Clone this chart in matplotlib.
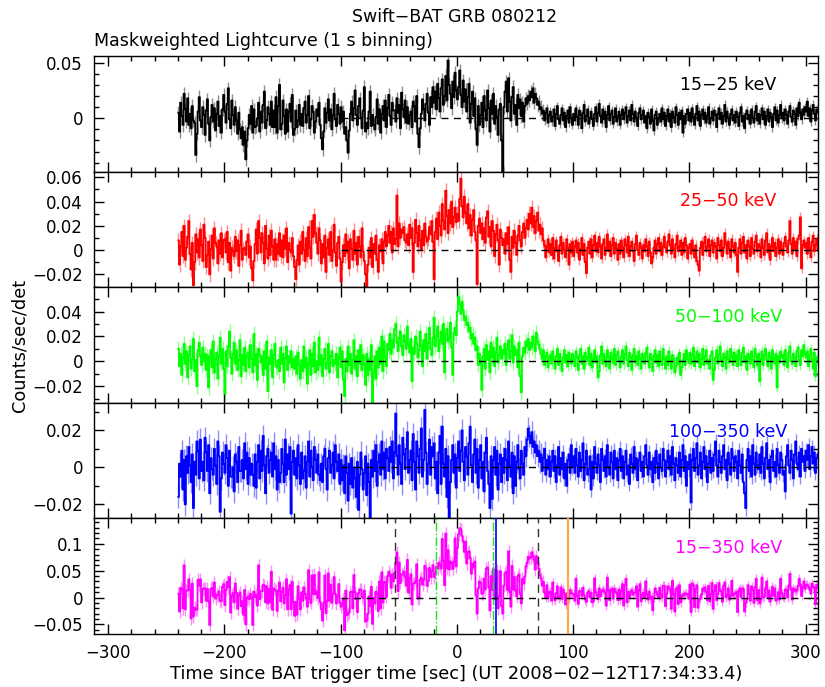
import numpy as np
import matplotlib
matplotlib.use('Agg')
import matplotlib.pyplot as plt
from matplotlib.ticker import MultipleLocator, FuncFormatter


# ── Data: mask-weighted rates, 1 s bins starting at t = -240 s ────────────────
# values in units of 1e-3 counts/sec/det, one row = 20 s
t_first = -240

lc_15_25 = [
    5, -12, 14, 2, -6, 22, 8, -3, 18, -6, 4, -9, 11, -2, -4, -33, -14, 6, 19, -2,
    -8, 10, 3, -15, 7, 17, -5, -20, 1, 12, -3, 9, -11, 4, 15, -7, 2, -13, 8, 21,
    6, -4, 13, 27, -1, -9, 16, 3, -6, 10, -2, -14, 5, -10, -18, -8, -24, -12, -37, -20,
    -9, 3, -5, 11, -13, 8, -8, -7, 0, 14, -12, 6, -4, 12, 24, -9, -2, 10, 4, -6,
    15, -8, 7, -8, 19, -13, 11, 30, -10, -5, 16, 2, -14, 8, -12, 6, 13, -3, 21, -15,
    -10, 7, -8, -2, 12, -6, 4, -7, 9, 15, -4, 3, 20, -9, -1, 11, 6, -13, -3, 8,
    2, 14, -6, -18, -28, -12, 9, -4, 5, 17, -2, 8, -10, 3, 22, -1, -7, 12, 4, -5,
    10, -3, 6, -14, -8, -20, -31, -11, 4, 15, -2, 9, 25, 3, -6, 11, 18, 0, -9, 7,
    28, -12, -4, -9, 6, 24, -7, 3, -6, -10, 1, 17, -5, 8, -13, 4, 11, -2, 16, -8,
    9, 21, 2, -6, 14, 7, 7, -3, 18, 5, 12, -9, 23, 8, 1, 16, -4, 10, -5, 3,
    6, -8, 15, 11, -3, 20, -14, -26, -9, 4, 17, 8, -2, 13, 22, 5, -6, 19, 10, 28,
    14, 24, 8, 31, 18, 6, 27, 35, 12, 20, 38, 16, 52, 30, 22, 9, 33, 19, 41, 25,
    17, 28, 43, 21, 10, 34, 15, 26, 6, 19, 31, -4, 13, 24, 2, 18, -10, -24, 11, -6,
    3, 14, -8, 20, 7, -2, 25, 9, -12, 16, 4, 22, -5, 11, 1, -15, 8, 13, -20, -48,
    10, 24, 33, 6, 36, 15, -2, 19, 28, 4, 12, -6, 21, 9, 17, 2, 14, -3, 11, 18,
    13, 20, 16, 24, 19, 27, 14, 22, 18, 12, 15, 8, 10, 4, 7, -2, 5, 9, -4, 3,
    6, -3, 1, 8, -7, 4, 11, -1, -5, 3, 9, -2, 5, -8, 2, 7, -4, 10, 0, -6,
    4, -2, 9, 1, -6, 7, 3, -9, 5, 12, -3, 2, 8, -5, 0, 6, -1, -7, 4, 10,
    -3, 5, 13, 2, -4, 8, -1, 6, -8, 3, 11, -2, 4, 7, -5, 1, 9, -3, 2, 6,
    -6, 3, 8, -1, 5, 10, -4, 2, 7, -2, 12, 4, -3, 6, 0, -7, 5, 9, -1, 3,
    7, -4, 2, -9, 5, 1, -5, 8, -2, -11, 3, 6, -6, 0, 4, -3, 9, -1, 5, -7,
    2, 8, -3, 4, -8, 6, 1, -4, 10, 3, -6, 5, -1, 7, -13, 2, -5, 4, 8, -2,
    5, -3, 9, 1, -6, 4, 11, -2, 6, -7, 3, 8, -1, 5, -4, 2, 10, -5, 0, 6,
    -2, 7, 3, -8, 4, 9, -1, 5, -5, 2, 12, -3, 6, 0, -6, 4, 8, -2, 3, -4,
    6, 1, -7, 5, 10, -3, 2, -9, 4, 7, -1, 3, -5, 8, 0, -4, 6, 11, -2, 4,
    -5, 3, 9, -1, 6, -6, 2, 8, -3, 5, 1, -8, 4, 10, -2, 7, -4, 3, 12, 0,
    5, -2, 8, 3, -5, 6, 11, 1, -3, 7, 4, -6, 9, 2, 14, 5, -1, 8, 3, 10,
    6, 15, 2, 9, -3, 7, 12, 4, -2, 8, 5,
]

lc_25_50 = [
    8, -12, 3, 15, -5, 20, -8, 2, 11, 24, -3, -16, 6, -29, -10, 13, -2, 9, -6, 17,
    4, -9, 21, 10, -14, -4, 7, -20, 1, 12, -7, 18, 6, 3, -11, 8, -3, 14, -6, 8,
    9, -2, 15, -10, 6, -17, 2, -1, -5, 11, -1, 8, -13, 4, 16, -8, 1, 2, -4, 7,
    13, -6, 3, -15, -25, -9, 5, 17, -3, 24, 10, -2, 14, 6, -11, 20, 1, -7, 12, -4,
    16, 3, -8, 9, -8, 5, -3, 14, -5, 8, -6, 12, 1, 18, -10, 6, 0, -2, 10, -5,
    -14, -24, -8, 4, -12, 7, -3, 15, 0, -9, 10, -5, 19, 2, -7, 24, 11, 29, 14, 6,
    -3, 18, 8, -11, 5, -6, 12, -18, 2, 9, -4, 15, -9, 0, 21, -2, -13, 6, 11, -7,
    -26, -10, 4, -5, 13, -2, 7, -15, 9, 1, -8, 16, -3, 6, -12, 11, 3, -6, 18, -1,
    -9, -20, -30, -12, 2, -6, 10, -14, 5, -3, 12, -8, -18, 4, -1, 9, -11, 7, 15, 3,
    12, 20, 6, 15, -2, 18, 5, 9, 45, 3, 22, 10, 17, 14, 19, 8, 6, 13, 4, 21,
    10, 18, -18, 6, 25, 14, 3, 20, 8, 0, 16, 4, 22, 11, 7, 9, 19, 13, 24, 7,
    -24, 15, 26, 9, 31, 20, 12, 38, 24, 17, 49, 28, 14, 33, 22, 40, 19, 27, 35, 23,
    30, 24, 42, 59, 36, 27, 44, 31, 22, 38, 18, 29, 12, 25, 33, 15, 8, -28, 20, 26,
    14, 22, 9, 18, 6, 27, 32, 11, 19, 3, 24, 16, -5, 13, 21, 8, -12, 17, 10, 4,
    9, -3, 14, 5, 19, -8, -18, 11, 2, 16, 6, -4, 12, 20, 8, 3, 15, 22, 10, 18,
    25, 17, 30, 22, 35, 19, 28, 14, 24, 31, 16, 21, 13, 18, 8, 4, -6, 3, 9, -2,
    5, -4, 10, -7, 2, 8, -1, -9, 4, 11, -3, 6, 0, -6, 9, 2, -12, 5, -2, 7,
    -5, 3, 8, -2, 6, -8, 1, 10, -4, 5, -10, -19, 2, 7, -3, 9, -6, 4, 12, -1,
    6, -2, 11, 3, -7, 5, 9, -4, 2, 13, -1, 7, -5, 4, 10, -3, 6, 1, -8, 5,
    -3, 8, 2, -6, 9, 4, -2, 11, -5, 3, 7, -1, -9, 5, 12, 0, -4, 6, 2, -7,
    4, -1, 9, 3, -5, 7, -2, -11, -6, 2, 8, -3, 5, 10, -1, 6, -4, 3, 11, 2,
    -2, 7, 13, 4, -3, 9, 1, -6, 5, 12, -1, 3, 8, -4, 6, -2, 10, 4, -7, 2,
    5, -3, 8, 1, -6, 4, -9, -12, -17, 2, 7, -4, 6, 11, -1, 3, 9, -5, 4, 8,
    -2, 6, 3, -7, 10, 4, -1, 8, -5, 2, 14, 5, -3, 7, 1, -6, 9, 3, -2, 6,
    -4, -18, 2, 9, -3, 6, 11, -2, 4, -7, 8, 3, -5, 10, 1, -3, 7, 12, -1, 5,
    3, -6, 9, 2, -4, 8, 14, -2, 5, -8, 3, 10, -1, 6, -5, 2, 9, -3, 7, 1,
    -4, 6, 11, 3, -2, 8, 24, 5, -3, 10, 1, 7, -5, 9, 12, 27, -15, 4, 8, 2,
    6, -3, 10, 2, -6, 7, 12, -1, 4, 9, 1,
]

lc_50_100 = [
    10, -4, 6, -11, 3, 14, -2, 8, -13, 5, 12, -6, 2, 18, -8, 1, -20, 9, 15, 4,
    -3, 11, 0, 6, -7, 5, -21, 3, 9, -5, 16, -9, 2, 7, -14, 4, 19, -2, 10, -6,
    -26, 8, -4, 12, 24, 3, -10, 6, 15, -2, 9, -7, 1, 17, -12, 5, -3, 11, -8, 4,
    7, -5, 13, 2, -9, 22, -3, 6, -15, 10, 5, -1, 4, -11, 8, -6, 16, -24, 3, -2,
    9, -13, 5, 14, -4, -5, 1, -8, 11, -2, 6, -17, 3, 12, -7, 4, -1, 8, -5, 2,
    -6, 4, -10, 7, -3, -14, 1, -8, 12, -5, 3, -18, -2, 9, -11, 6, -4, 15, -9, 0,
    -7, 19, -3, 5, -12, 2, 10, -6, -1, 14, -9, 4, 8, -4, 1, -2, 6, -13, 3, 11,
    -5, 8, -15, -28, 2, -8, 12, -3, 6, -10, 1, 17, -6, 4, -12, 9, -2, 13, -7, 5,
    -3, -19, 6, -11, 2, -7, 13, -33, -9, 4, -14, 8, -5, 11, -2, 20, -8, 16, 3, -4,
    14, 9, 22, 6, 17, 11, 26, 30, 15, 8, 19, 24, 12, 5, 21, 16, 10, 28, 13, 7,
    18, -16, 11, 6, 20, 14, 3, 9, 24, 12, -4, 17, 8, 22, 2, 15, 27, 10, 5, 19,
    35, 12, 20, 28, 8, 17, 24, 14, 30, -9, 22, 26, 16, 19, 31, 11, -11, 23, 27, 21,
    40, 52, 46, 38, 48, 41, 33, 36, 29, 31, 24, 27, 18, 22, 14, 19, 9, 12, -3, 6,
    -2, -23, 4, 10, -6, 13, 1, 8, -9, 15, 3, 11, -4, 7, 19, -1, 5, 12, 2, 9,
    6, 14, -3, 10, 17, 2, 8, 21, -1, 12, 5, 9, -5, 15, -12, -25, 4, 11, 7, 16,
    12, 18, 9, 15, 11, 20, 14, 8, 23, 16, 13, 10, 6, 2, 9, -3, 4, 7, -5, 3,
    5, -2, 8, 1, -6, 4, 10, -3, 6, 0, -8, 3, 9, -1, 5, -4, 7, 2, -2, 6,
    1, -4, 8, 3, -7, 5, 10, -2, 4, -6, 7, 0, 3, 11, -3, 6, -5, 2, 9, -1,
    4, -13, -8, 5, 12, -2, 6, 1, -4, 9, 3, -6, 7, 2, -1, 10, -3, 5, 8, 0,
    -5, 4, 9, -2, 6, 12, 1, -4, 7, 3, -7, 5, 10, -1, 4, -3, 8, 2, -6, 6,
    3, -2, 7, 11, 0, -5, 6, 2, -8, 4, 9, -1, 5, -4, 8, 1, -3, 10, 2, -6,
    4, -3, 8, 1, -6, 5, 2, -9, -4, 3, -2, 7, -11, -5, 1, 6, -3, 9, 2, -1,
    7, -2, 5, 11, -4, 3, 8, -1, 6, -5, 2, 10, -3, 4, 9, -2, 1, -6, 5, 8,
    -15, -7, 3, 9, -2, 5, 12, 1, -4, 6, 3, -6, 8, 2, -1, 10, 4, -3, 7, 0,
    5, -4, 9, 2, -3, 7, 11, -1, 4, -7, 6, 3, -2, 8, 1, -5, 10, 4, -3, 6,
    -16, 2, 8, -3, 5, 10, 1, -4, 7, 3, -6, 9, 2, -2, 6, -21, 4, -1, 8, 3,
    5, -3, 9, 2, -5, 7, 12, 0, -2, 6, 3, -4, 8, 11, 1, -3, 9, 4, 13, 6,
    3, 8, -4, 5, 10, 1, -6, 7, -12, 2, 4,
]

lc_100_350 = [
    -16, 2, -5, 9, -12, 4, -20, 6, -3, 11, 1, -8, 7, -22, 3, -4, 14, 9, -6, 15,
    -2, 3, -7, 16, 8, -2, 12, -14, 5, -1, -4, 10, 1, -9, 14, 6, -24, -6, 8, 2,
    -3, 12, 5, -10, 9, -5, -5, 0, -13, 7, 3, -8, 11, -2, -2, 4, -6, 13, -1, 8,
    -9, 5, -4, 2, -4, -10, 7, -11, 3, 12, -6, 9, -2, 17, 1, -14, 6, 10, -3, 4,
    8, -5, 13, -1, 6, -12, 4, -8, -3, 10, 2, -8, 15, -4, 7, -1, 11, -25, 3, 9,
    -4, 5, -6, 12, 1, -9, 8, -6, -2, 6, -11, 3, 14, -5, 9, 0, -7, 11, 4, -3,
    7, -4, -7, 2, -8, 6, 10, -1, -12, 5, 9, -3, 1, 8, -6, 12, 3, -2, 7, -9,
    4, -7, 1, -14, 6, -3, -18, 2, -9, 5, -11, 0, -6, -16, 3, -23, -4, 8, -1, -12,
    -3, 6, -15, 2, -8, -27, 4, -5, 9, -2, 12, -10, 3, 7, -4, 14, -1, 8, -6, 10,
    5, -2, 11, 3, 14, -6, 8, 29, 6, -4, 12, 2, -9, 16, 7, -1, 10, 19, -3, 4,
    9, -7, 18, 3, -12, 14, 6, -3, 10, 21, -5, 4, 31, 8, -9, 2, 15, -4, 11, 6,
    13, -6, 3, -14, 8, 17, -9, 22, 2, -5, 10, -16, 6, -30, -8, 4, 12, -3, 7, -11,
    5, 14, -2, 9, 20, 3, -7, 11, 6, -4, 13, 22, 1, -8, 7, 15, -3, 10, -11, 4,
    12, -6, 3, -13, 8, 16, -2, -9, -22, 6, -17, 4, 11, -4, 9, -12, 2, 7, -8, 5,
    -3, 10, 4, -7, 14, 1, -5, 8, -14, 6, -10, 3, 12, -1, -6, 9, 2, -4, 11, 6,
    15, 21, 17, 13, 19, 11, 14, 8, 12, 6, 9, 3, 7, -2, 5, 10, -4, 4, -1, 6,
    -5, 3, 9, -2, 6, -8, 1, 11, -4, 5, -1, 8, -6, 2, -10, 4, 7, -3, 12, 0,
    6, -3, 10, 1, -5, 8, -2, 4, 13, -7, 2, 9, -4, -1, 6, -12, 3, -6, 11, 2,
    -3, 7, 1, -8, 10, 4, -2, 6, -5, 12, 0, -4, 8, 3, -6, 9, -1, 5, -7, 4,
    10, -2, 6, -6, 3, 9, -4, 1, -9, 7, 2, -3, 11, -1, 5, -7, 4, 8, -2, 3,
    -5, 6, 12, 1, -4, 8, -1, 3, -8, 5, -3, 9, 2, -6, 7, 0, -2, 10, 4, -5,
    3, 9, -1, 6, -4, 11, 2, -7, 5, 1, -3, 8, -5, 4, 12, -2, 6, -10, 3, -1,
    7, -19, 4, 10, -2, 5, 13, -4, 1, 8, -6, 3, 11, -1, 6, -8, 2, 9, -3, 5,
    -2, 7, 14, 1, -5, 9, 3, -3, 6, 12, -1, 4, -7, 8, 2, -4, 10, 5, -2, 6,
    3, -6, 9, 1, -3, 7, -8, -14, -22, 4, 10, -2, 6, -5, 12, 2, -4, 8, 1, -1,
    7, -3, 11, 2, -6, 5, 13, -1, 4, -8, 6, 9, -2, 3, -5, 10, 1, -3, 8, 4,
    -4, -2, -13, 6, 12, 1, -3, 9, 4, -6, 7, 14, 2, -1, 8, -5, 10, 3, 6, -2,
    9, 4, 12, -1, 6, 11, 2, 8, -3, 5, 7,
]

# typical 1-sigma error per bin (1e-3 counts/sec/det), before / after t_quiet
err_before = [6, 6, 6, 6]
err_after = [4, 4, 4, 4]
t_quiet = 75

band_labels = ['15\u221225 keV', '25\u221250 keV', '50\u2212100 keV',
               '100\u2212350 keV', '15\u2212350 keV']

# markers drawn in the 15-350 keV panel (seconds since trigger)
t_t90 = [-53.4, 69.5]
t_t50 = [-18.0, 31.3]
t_peak = [33.6]
t_orange = [95.4]


# ── Build the series ──────────────────────────────────────────────────────────
bands_raw = [lc_15_25, lc_25_50, lc_50_100, lc_100_350]
n = min(len(b) for b in bands_raw)
t_mid = t_first + np.arange(n) + 0.5
rates = [np.array(b[:n], dtype=float) / 1000.0 for b in bands_raw]
errs = [np.where(t_mid < t_quiet, eb, ea) / 1000.0
        for eb, ea in zip(err_before, err_after)]
rates.append(np.sum(rates, axis=0))
errs.append(np.sqrt(np.sum(np.square(errs), axis=0)))


# ── Style ─────────────────────────────────────────────────────────────────────
plt.rcParams.update({
    'font.family': 'DejaVu Sans',
    'font.size': 12,
    'axes.linewidth': 1.0,
})

colors = ['black', '#ff0000', '#00ff00', '#0000ff', '#ff00ff']
err_colors = ['#8c8c8c', '#ff8c8c', '#8cff8c', '#8c8cff', '#ff8cff']
ylims = [(-0.048, 0.056), (-0.0306, 0.0647), (-0.0334, 0.0595),
         (-0.0276, 0.0348), (-0.068, 0.147)]
ymajor = [0.05, 0.02, 0.02, 0.02, 0.05]
xlim = (-312, 311)


def fmt_tick(v, pos):
    if abs(v) < 1e-9:
        return '0'
    return ('%g' % v).replace('-', '\u2212')


fig = plt.figure(figsize=(8.25, 6.87), dpi=100)
left, width = 0.114, 0.878
top, height = 0.9185, 0.1683

for i in range(5):
    ax = fig.add_axes([left, top - (i + 1) * height, width, height])
    y, e = rates[i], errs[i]

    ax.vlines(t_mid, y - e, y + e, color=err_colors[i], lw=1.0, zorder=1)
    ax.step(t_mid, y, where='mid', color=colors[i], lw=1.3, zorder=2)
    ax.plot([-100, xlim[1]], [0, 0], color='black', ls='--',
            dashes=(5, 4), lw=1.0, zorder=4)

    ax.text(0.876, 0.745, band_labels[i], transform=ax.transAxes,
            color=colors[i], ha='center', va='center', fontsize=12.5)

    ax.set_xlim(*xlim)
    ax.set_ylim(*ylims[i])
    ax.xaxis.set_major_locator(MultipleLocator(100))
    ax.xaxis.set_minor_locator(MultipleLocator(20))
    ax.yaxis.set_major_locator(MultipleLocator(ymajor[i]))
    ax.yaxis.set_minor_locator(MultipleLocator(0.01))
    ax.yaxis.set_major_formatter(FuncFormatter(fmt_tick))
    ax.xaxis.set_major_formatter(FuncFormatter(fmt_tick))
    ax.tick_params(which='both', direction='in', top=True, right=True,
                   width=1.0, labelsize=12)
    ax.tick_params(which='major', length=7)
    ax.tick_params(which='minor', length=3.5)
    ax.tick_params(axis='y', pad=8)
    if i < 4:
        ax.tick_params(labelbottom=False)
    else:
        ax.tick_params(axis='x', pad=7)
        for tx in t_t90:
            ax.axvline(tx, color='#333333', ls='--', dashes=(6, 4), lw=1.0, zorder=3)
        for tx in t_t50:
            ax.axvline(tx, color='#22dd22', ls='-.', lw=1.0, zorder=3)
        for tx in t_peak:
            ax.axvline(tx, color='#0000ff', lw=1.2, zorder=3)
        for tx in t_orange:
            ax.axvline(tx, color='#ffa64d', lw=1.6, zorder=3)
        ax.set_xlabel('Time since BAT trigger time [sec] (UT 2008\u221202\u221212T17:34:33.4)',
                      fontsize=12.8, labelpad=2)

fig.text(0.551, 0.975, 'Swift\u2212BAT GRB 080212', ha='center', va='center',
         fontsize=12.5)
fig.text(left, 0.94, 'Maskweighted Lightcurve (1 s binning)', ha='left',
         va='center', fontsize=12.5)
fig.text(0.024, 1 - 345 / 687, 'Counts/sec/det', rotation=90, ha='center',
         va='center', fontsize=12.8)

fig.savefig('out.png', dpi=100)
